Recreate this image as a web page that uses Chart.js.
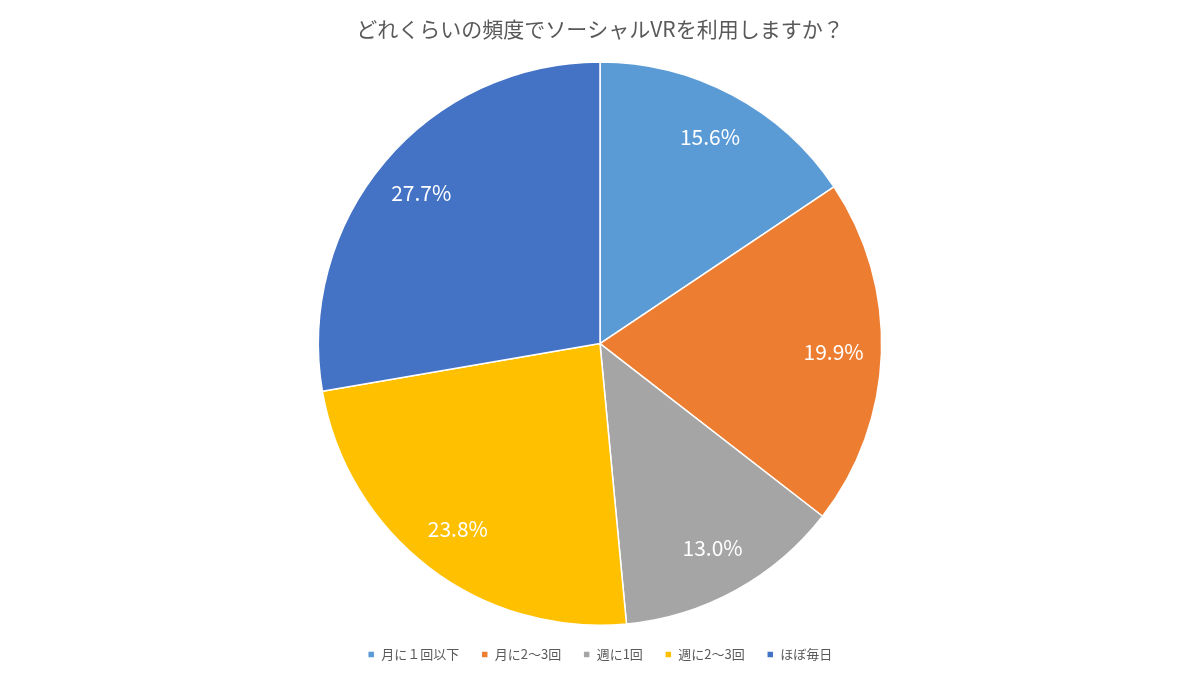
<!DOCTYPE html>
<html>
<head>
<meta charset="utf-8">
<script src="https://cdn.jsdelivr.net/npm/chart.js@4.4.0/dist/chart.umd.min.js"></script>
<style>
  html, body { margin: 0; padding: 0; background: #fff; }
  #wrap { width: 1200px; height: 675px; }
</style>
</head>
<body>
<div id="wrap"><canvas id="pieChart"></canvas></div>
<script>
const categories = ['月に１回以下', '月に2〜3回', '週に1回', '週に2〜3回', 'ほぼ毎日'];
const shares = [15.6, 19.9, 13.0, 23.8, 27.7];
const sliceColors = ['#5b9bd5', '#ed7d31', '#a5a5a5', '#ffc000', '#4472c4'];

const FONT = '"Noto Sans CJK JP", "Noto Sans", sans-serif';

// Percent labels drawn inside each slice, near the rim
const sliceLabels = {
    id: 'sliceLabels',
    afterDatasetsDraw(chart) {
        const ctx = chart.ctx;
        const meta = chart.getDatasetMeta(0);
        ctx.save();
        ctx.fillStyle = '#ffffff';
        ctx.font = '21px ' + FONT;
        ctx.textAlign = 'center';
        ctx.textBaseline = 'middle';
        meta.data.forEach((arc, i) => {
            const p = arc.getProps(['x', 'y', 'startAngle', 'endAngle', 'outerRadius'], true);
            const mid = (p.startAngle + p.endAngle) / 2;
            const r = p.outerRadius * 0.83;
            ctx.fillText(shares[i].toFixed(1) + '%', p.x + Math.cos(mid) * r, p.y + Math.sin(mid) * r);
        });
        ctx.restore();
    }
};

new Chart(document.getElementById('pieChart'), {
    type: 'pie',
    data: {
        labels: categories,
        datasets: [{
            data: shares,
            backgroundColor: sliceColors,
            borderColor: '#ffffff',
            borderWidth: 1.5
        }]
    },
    options: {
        responsive: true,
        maintainAspectRatio: false,
        animation: false,
        layout: { padding: { top: 0, bottom: 4 } },
        plugins: {
            title: {
                display: true,
                text: 'どれくらいの頻度でソーシャルVRを利用しますか？',
                color: '#595959',
                font: { family: FONT, size: 21, weight: 'normal' },
                padding: { top: 16, bottom: 20 }
            },
            legend: {
                position: 'bottom',
                labels: {
                    color: '#595959',
                    font: { family: FONT, size: 13 },
                    boxWidth: 7,
                    boxHeight: 7,
                    padding: 22
                }
            },
            tooltip: { enabled: false }
        }
    },
    plugins: [sliceLabels]
});
</script>
</body>
</html>
